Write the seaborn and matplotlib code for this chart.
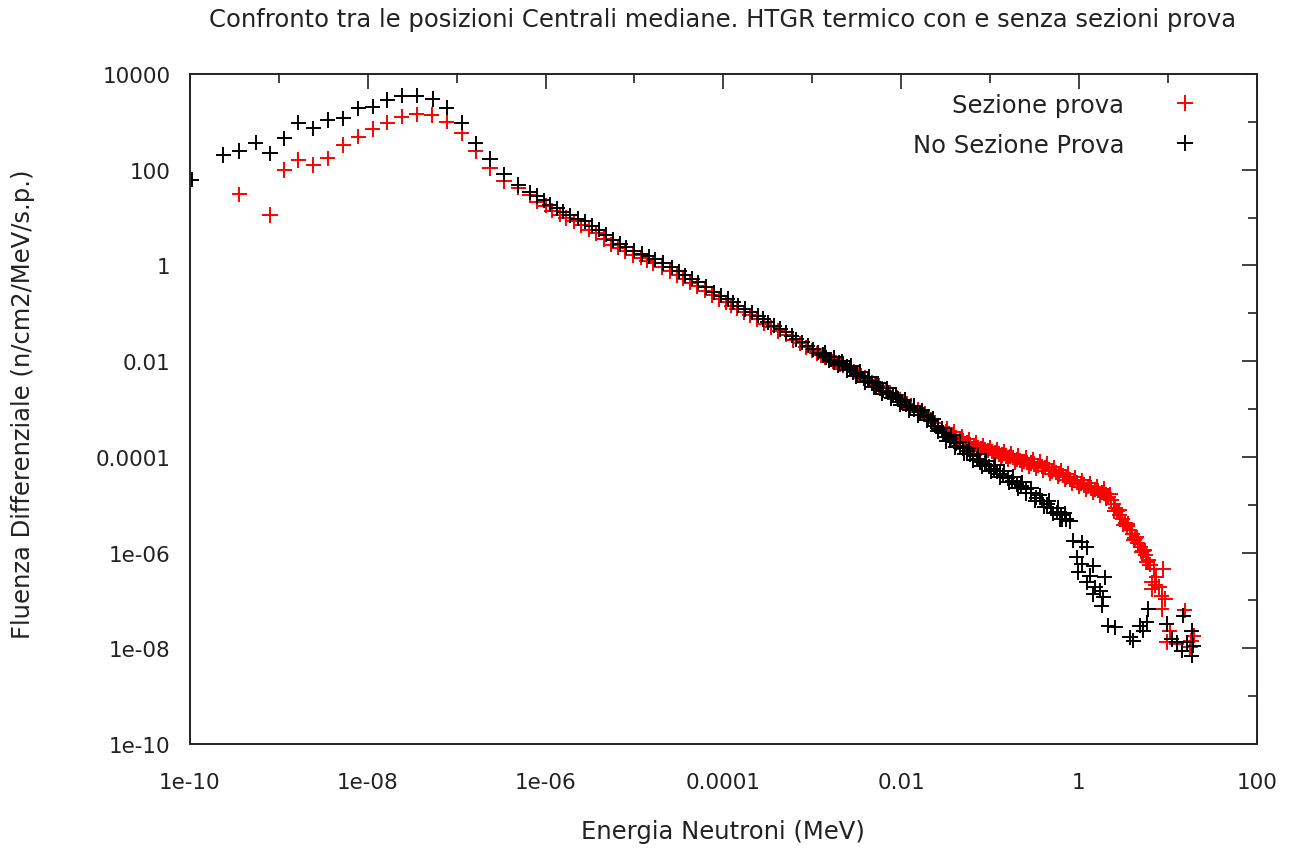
import numpy as np
import pandas as pd
import matplotlib
matplotlib.use("Agg")
import matplotlib.pyplot as plt
import seaborn as sns
from matplotlib.ticker import FixedLocator, FixedFormatter, NullFormatter

# ---------------- data (log10 values) ----------------
title = "Confronto tra le posizioni Centrali mediane. HTGR termico con e senza sezioni prova"
x_label = "Energia Neutroni (MeV)"
y_label = "Fluenza Differenziale (n/cm2/MeV/s.p.)"
series_names = ["Sezione prova", "No Sezione Prova"]
series_colors = ["#ff0000", "#000000"]

# "Sezione prova" (red): log10(E / MeV)
sez_logE = [
    -9.445, -9.100, -8.939, -8.782, -8.613, -8.451, -8.276, -8.107, -7.945, -7.781,
    -7.619, -7.450, -7.280, -7.112, -6.944, -6.786, -6.625, -6.468, -6.307, -6.175,
    -6.10, -6.00, -5.93, -5.84, -5.77, -5.68, -5.60, -5.51, -5.43, -5.34,
    -5.26, -5.18, -5.11, -5.02, -4.93, -4.86, -4.79, -4.69, -4.60, -4.52,
    -4.45, -4.37, -4.30, -4.21, -4.13, -4.05, -3.97, -3.91, -3.85, -3.77,
    -3.70, -3.62, -3.54, -3.46, -3.38, -3.30, -3.22, -3.14, -3.07, -3.00,
    -2.95, -2.90, -2.86, -2.81, -2.77, -2.73, -2.69, -2.65, -2.61, -2.57,
    -2.53, -2.49, -2.45, -2.41, -2.37, -2.33, -2.29, -2.25, -2.21, -2.17,
    -2.13, -2.09, -2.05, -2.01, -1.97, -1.93, -1.89, -1.85, -1.81, -1.77,
    -1.73, -1.69, -1.66, -1.62, -1.58, -1.54, -1.50, -1.46, -1.42, -1.38,
    -1.34, -1.30, -1.26, -1.22, -1.18, -1.14, -1.10, -1.06, -1.02, -0.98,
    -0.94, -0.90, -0.86, -0.82, -0.78, -0.74, -0.70, -0.66, -0.62, -0.58,
    -0.54, -0.50, -0.46, -0.42, -0.38, -0.34, -0.30, -0.26, -0.22, -0.18,
    -0.14, -0.10, -0.06, -0.02, 0.02, 0.06, 0.10, 0.14, 0.18, 0.22,
    0.26, 0.30, 0.33, 0.36, 0.39, 0.41, 0.43, 0.46, 0.49, 0.52,
    0.54, 0.57, 0.60, 0.63, 0.66, 0.69, 0.72, 0.75, 0.78, 0.80,
    0.84, 0.95, 0.87, 0.82, 0.82, 0.86, 0.90, 0.93, 0.97, 0.93,
    1.19, 1.02, 0.99, 1.10, 1.29, 1.25, 1.26,
    -1.48, -1.40, -1.32, -1.24, -1.16, -1.08, -1.00, -0.92, -0.84, -0.76,
    -0.68, -0.60, -0.52, -0.44, -0.36, -0.28, -0.20, -0.12, -0.04, 0.04,
    0.12, 0.20, 0.28, 0.35, 0.45, 0.55, 0.65, 0.74,
    -1.44, -1.36, -1.28, -1.20, -1.12, -1.04, -0.96, -0.88, -0.80, -0.72,
    -0.64, -0.56, -0.48, -0.40, -0.32, -0.24, -0.16, -0.08, 0.00, 0.08,
    0.16, 0.24, 0.31, 0.40, 0.50, 0.62, 0.70, 0.76,
]
# "Sezione prova" (red): log10(fluence)
sez_logF = [
    1.486, 1.054, 1.994, 2.203, 2.099, 2.239, 2.517, 2.690, 2.851, 2.982,
    3.108, 3.158, 3.143, 3.003, 2.761, 2.391, 2.030, 1.764, 1.624, 1.472,
    1.33, 1.25, 1.14, 1.06, 0.99, 0.92, 0.84, 0.75, 0.67, 0.55,
    0.43, 0.37, 0.30, 0.22, 0.16, 0.10, 0.05, -0.04, -0.12, -0.20,
    -0.28, -0.36, -0.43, -0.53, -0.62, -0.70, -0.77, -0.84, -0.90, -0.98,
    -1.04, -1.12, -1.22, -1.29, -1.37, -1.45, -1.56, -1.63, -1.71, -1.78,
    -1.84, -1.88, -1.93, -1.97, -2.01, -2.03, -2.06, -2.09, -2.13, -2.18,
    -2.21, -2.26, -2.30, -2.35, -2.39, -2.44, -2.49, -2.52, -2.57, -2.62,
    -2.66, -2.70, -2.76, -2.80, -2.85, -2.89, -2.93, -2.97, -3.01, -3.05,
    -3.10, -3.15, -3.22, -3.29, -3.38, -3.43, -3.47, -3.52, -3.55, -3.60,
    -3.62, -3.66, -3.70, -3.74, -3.77, -3.80, -3.82, -3.85, -3.87, -3.89,
    -3.92, -3.94, -3.96, -3.98, -4.00, -4.02, -4.05, -4.07, -4.09, -4.11,
    -4.13, -4.15, -4.18, -4.20, -4.23, -4.27, -4.30, -4.33, -4.36, -4.39,
    -4.43, -4.47, -4.50, -4.53, -4.56, -4.59, -4.62, -4.65, -4.68, -4.71,
    -4.74, -4.78, -4.83, -4.90, -4.98, -5.06, -5.14, -5.22, -5.30, -5.38,
    -5.45, -5.53, -5.61, -5.70, -5.79, -5.88, -5.97, -6.06, -6.16, -6.25,
    -6.34, -6.34, -6.52, -6.62, -6.76, -6.68, -6.72, -6.90, -6.97, -7.18,
    -7.21, -7.63, -7.87, -7.91, -7.74, -7.98, -7.85,
    -3.40, -3.48, -3.58, -3.63, -3.70, -3.76, -3.80, -3.84, -3.88, -3.93,
    -3.97, -4.02, -4.05, -4.10, -4.15, -4.22, -4.28, -4.36, -4.43, -4.49,
    -4.55, -4.62, -4.67, -4.78, -5.12, -5.40, -5.68, -5.95,
    -3.62, -3.70, -3.77, -3.83, -3.88, -3.93, -3.97, -4.02, -4.06, -4.11,
    -4.15, -4.20, -4.24, -4.29, -4.35, -4.41, -4.48, -4.55, -4.62, -4.68,
    -4.74, -4.80, -4.86, -5.13, -5.42, -5.74, -5.98, -6.20,
]

# "No Sezione Prova" (black): log10(E / MeV)
nosez_logE = [
    -9.98, -9.625, -9.445, -9.261, -9.100, -8.939, -8.782, -8.613, -8.451, -8.276,
    -8.107, -7.945, -7.781, -7.619, -7.450, -7.270, -7.112, -6.944, -6.786, -6.625,
    -6.468, -6.307, -6.175,
    -6.10, -6.02, -5.95, -5.87, -5.80, -5.72, -5.64, -5.56, -5.48, -5.40,
    -5.32, -5.24, -5.16, -5.09, -5.00, -4.92, -4.84, -4.77, -4.68, -4.58,
    -4.50, -4.43, -4.35, -4.28, -4.20, -4.11, -4.03, -3.95, -3.89, -3.83,
    -3.76, -3.68, -3.61, -3.55, -3.50, -3.43, -3.36, -3.29, -3.23, -3.18,
    -3.11, -3.05, -2.99, -2.93, -2.88, -2.84, -2.79, -2.75, -2.70, -2.65,
    -2.61, -2.58, -2.54, -2.50, -2.46, -2.42, -2.37, -2.33, -2.28, -2.24,
    -2.20, -2.15, -2.09, -2.04, -1.99, -1.95, -1.90, -1.85, -1.79, -1.74,
    -1.70, -1.66, -1.62, -1.58, -1.53, -1.49, -1.45, -1.41, -1.38, -1.34,
    -1.30, -1.26, -1.23, -1.19, -1.15, -1.11, -1.06, -1.01, -0.96, -0.92,
    -0.89, -0.85, -0.80, -0.75, -0.70, -0.65, -0.59, -0.54, -0.48, -0.42,
    -0.36, -0.31, -0.25, -0.20, -0.14, -0.10, -0.21,
    -2.86, -2.76, -2.66, -2.56, -2.46, -2.36, -2.26, -2.16, -2.06, -1.96,
    -1.86, -1.76, -1.64, -1.54, -1.44, -1.34, -1.24, -1.14, -1.04, -0.94,
    -0.84, -0.74, -0.64, -0.54, -0.44, -0.34, -0.24, -0.16,
    -2.81, -2.71, -2.61, -2.51, -2.41, -2.31, -2.21, -2.11, -2.01, -1.91,
    -1.81, -1.71, -1.59, -1.49, -1.39, -1.29, -1.19, -1.09, -0.99, -0.89,
    -0.79, -0.69, -0.59, -0.49, -0.39, -0.29, -0.19,
    -0.064, 0.030, 0.087, -0.026, 0.030, 0.161, -0.008, 0.124, 0.292, 0.087,
    0.180, 0.236, 0.161, 0.273, 0.255, 0.330, 0.405, 0.574, 0.611, 0.686,
    0.762, 0.780, 0.724, 0.986, 1.043, 1.099, 1.173, 1.268, 1.211, 1.286,
    1.268, 1.155,
]
# "No Sezione Prova" (black): log10(fluence)
nosez_logF = [
    1.79, 2.308, 2.391, 2.565, 2.343, 2.657, 2.982, 2.865, 3.039, 3.074,
    3.283, 3.317, 3.457, 3.547, 3.547, 3.478, 3.296, 2.982, 2.552, 2.224,
    1.904, 1.681, 1.528,
    1.45, 1.36, 1.27, 1.19, 1.12, 1.05, 0.98, 0.92, 0.83, 0.75,
    0.64, 0.53, 0.45, 0.38, 0.31, 0.24, 0.19, 0.13, 0.05, -0.04,
    -0.12, -0.21, -0.28, -0.35, -0.45, -0.56, -0.63, -0.70, -0.77, -0.84,
    -0.91, -0.98, -1.05, -1.12, -1.19, -1.26, -1.33, -1.40, -1.47, -1.54,
    -1.61, -1.68, -1.75, -1.82, -1.87, -1.92, -1.97, -2.02, -2.04, -2.06,
    -2.11, -2.15, -2.23, -2.26, -2.30, -2.36, -2.41, -2.46, -2.51, -2.57,
    -2.62, -2.66, -2.72, -2.79, -2.86, -2.91, -2.96, -3.01, -3.07, -3.12,
    -3.17, -3.25, -3.35, -3.42, -3.50, -3.59, -3.63, -3.68, -3.72, -3.77,
    -3.82, -3.88, -3.94, -3.99, -4.04, -4.11, -4.15, -4.20, -4.25, -4.30,
    -4.35, -4.39, -4.45, -4.51, -4.57, -4.61, -4.67, -4.75, -4.85, -4.92,
    -4.99, -5.07, -5.16, -5.22, -5.30, -5.34, -5.30,
    -1.82, -1.92, -2.00, -2.10, -2.22, -2.33, -2.46, -2.57, -2.70, -2.81,
    -2.93, -3.03, -3.20, -3.40, -3.55, -3.68, -3.82, -3.95, -4.08, -4.18,
    -4.30, -4.42, -4.53, -4.66, -4.80, -4.92, -5.06, -5.18,
    -1.99, -2.09, -2.19, -2.32, -2.44, -2.55, -2.68, -2.78, -2.91, -3.03,
    -3.13, -3.24, -3.47, -3.67, -3.80, -3.93, -4.07, -4.19, -4.30, -4.42,
    -4.53, -4.65, -4.76, -4.92, -5.04, -5.18, -5.30,
    -5.751, -5.785, -5.889, -6.098, -6.238, -6.274, -6.412, -6.483, -6.516, -6.621,
    -6.725, -6.796, -6.865, -6.934, -7.109, -7.527, -7.561, -7.770, -7.841, -7.527,
    -7.456, -7.178, -7.632, -7.492, -7.805, -7.874, -7.318, -7.632, -7.874, -7.945,
    -8.154, -8.050,
]

x_tick_exp = [-10, -8, -6, -4, -2, 0, 2]
x_tick_labels = ["1e-10", "1e-08", "1e-06", "0.0001", "0.01", "1", "100"]
y_tick_exp = [-10, -8, -6, -4, -2, 0, 2, 4]
y_tick_labels = ["1e-10", "1e-08", "1e-06", "0.0001", "0.01", "1", "100", "10000"]

# ---------------- table ----------------
df = pd.concat([
    pd.DataFrame({"E": np.power(10.0, sez_logE), "F": np.power(10.0, sez_logF),
                  "serie": series_names[0]}),
    pd.DataFrame({"E": np.power(10.0, nosez_logE), "F": np.power(10.0, nosez_logF),
                  "serie": series_names[1]}),
], ignore_index=True)

# ---------------- style ----------------
sns.set_style("white", {"xtick.direction": "in", "ytick.direction": "in",
                        "xtick.top": True, "ytick.right": True})
plt.rcParams['font.family'] = ['DejaVu Sans']
FS_TICK = 15.5
FS_TEXT = 17.5
TXT = "#222222"

fig = plt.figure(figsize=(13.01, 8.53), dpi=100)
ax = fig.add_axes([190 / 1301, 1 - 745 / 853, 1066.7 / 1301, 670 / 853])

sns.scatterplot(data=df, x="E", y="F", hue="serie",
                palette=dict(zip(series_names, series_colors)),
                marker="+", s=120, linewidth=1.4, ax=ax, legend=True)

ax.set_xscale("log")
ax.set_yscale("log")
ax.set_xlim(1e-10, 100)
ax.set_ylim(1e-10, 1e4)

ax.xaxis.set_major_locator(FixedLocator([10.0 ** e for e in x_tick_exp]))
ax.xaxis.set_major_formatter(FixedFormatter(x_tick_labels))
ax.xaxis.set_minor_locator(FixedLocator([10.0 ** e for e in range(-9, 2, 2)]))
ax.xaxis.set_minor_formatter(NullFormatter())
ax.yaxis.set_major_locator(FixedLocator([10.0 ** e for e in y_tick_exp]))
ax.yaxis.set_major_formatter(FixedFormatter(y_tick_labels))
ax.yaxis.set_minor_locator(FixedLocator([10.0 ** e for e in range(-9, 4, 2)]))
ax.yaxis.set_minor_formatter(NullFormatter())

ax.tick_params(which="major", direction="in", length=10.5, width=1.2, colors="#222222",
               top=True, right=True, labelsize=FS_TICK, labelcolor=TXT)
ax.tick_params(which="minor", direction="in", length=6.5, width=1.2, colors="#222222",
               top=True, right=True)
ax.tick_params(axis="x", which="major", pad=20)
ax.tick_params(axis="y", which="major", pad=14)
for sp in ax.spines.values():
    sp.set_visible(True)
    sp.set_linewidth(1.4)
    sp.set_color("#222222")

ax.set_xlabel("")
ax.set_ylabel("")
fig.text(723 / 1301, 1 - 832 / 853, x_label, ha="center", va="center", fontsize=FS_TEXT, color=TXT)
fig.text(23 / 1301, 1 - 404 / 853, y_label, ha="center", va="center", fontsize=FS_TEXT,
         color=TXT, rotation=90)
fig.text(723 / 1301, 1 - 20 / 853, title, ha="center", va="center", fontsize=FS_TEXT, color=TXT)

sns.move_legend(ax, "upper right", title=None, frameon=False, markerfirst=False,
                fontsize=FS_TEXT, labelcolor=TXT, bbox_to_anchor=(0.976, 1.005),
                labelspacing=0.66, handletextpad=1.5, handlelength=2.0, markerscale=1.0)

fig.savefig("out.png", dpi=100)
